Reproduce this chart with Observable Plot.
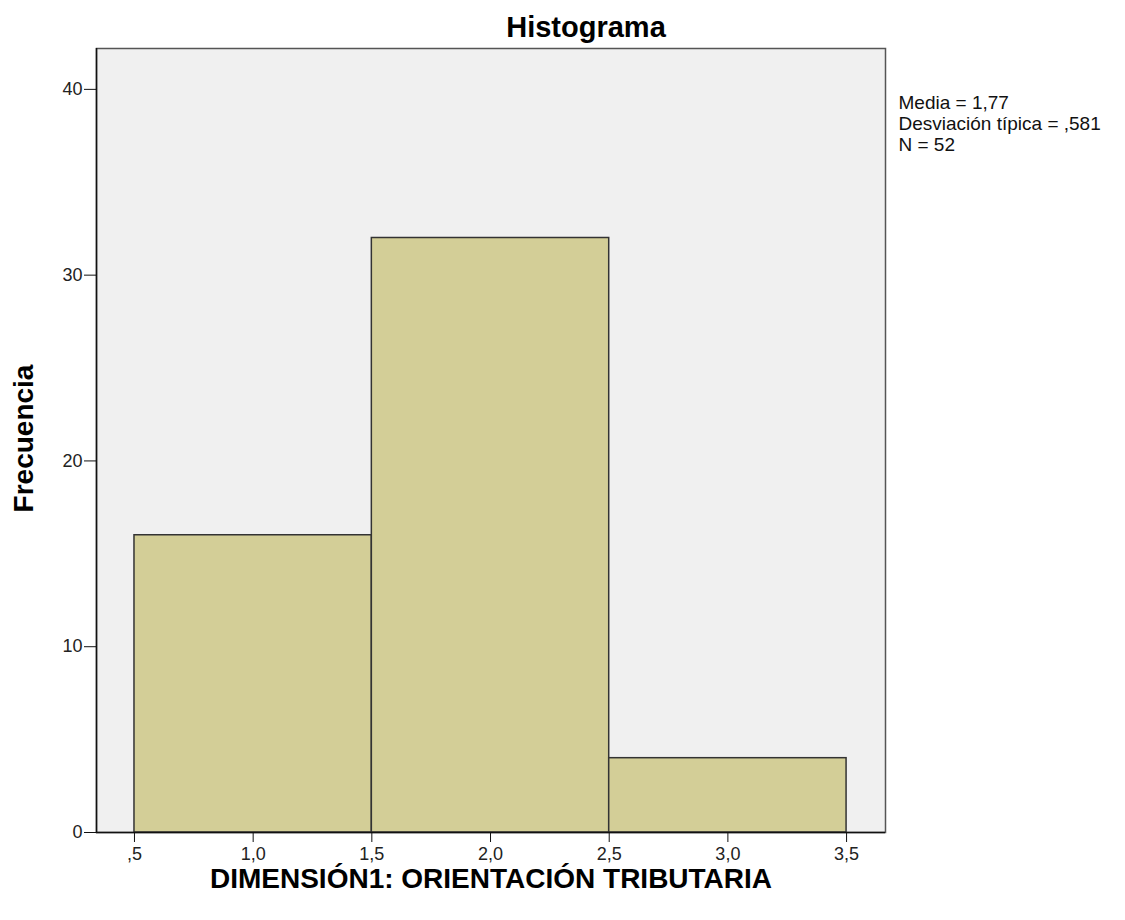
<!DOCTYPE html>
<html>
<head>
<meta charset="utf-8">
<script src="https://cdn.jsdelivr.net/npm/d3@7"></script>
<script src="https://cdn.jsdelivr.net/npm/@observablehq/plot@0.6"></script>
<style>
  html, body { margin: 0; padding: 0; background: #fff; }
  #chart svg { display: block; }
</style>
</head>
<body>
<div id="chart"></div>
<script>
// Data
const binStart = [0.5, 1.5, 2.5];
const binEnd   = [1.5, 2.5, 3.5];
const counts   = [16, 32, 4];
const xTicks = [0.5, 1.0, 1.5, 2.0, 2.5, 3.0, 3.5];
const yTicks = [0, 10, 20, 30, 40];
const titleText = "Histograma";
const xLabel = "DIMENSIÓN1: ORIENTACIÓN TRIBUTARIA";
const yLabel = "Frecuencia";
const statsLines = ["Media = 1,77", "Desviación típica = ,581", "N = 52"];

const bins = binStart.map((s, i) => ({x1: s, x2: binEnd[i], y: counts[i]}));
const fmtX = d => d3.format(".1f")(d).replace(".", ",").replace(/^0/, "");
const TICK_FS = 18;

const chart = Plot.plot({
  width: 1125,
  height: 920,
  marginLeft: 96,
  marginRight: 240,
  marginTop: 48,
  marginBottom: 88,
  style: {fontFamily: "'Liberation Sans', Arial, sans-serif", fontSize: TICK_FS + "px", background: "#fff", color: "#222"},
  x: {domain: [0.34, 3.664], label: null},
  y: {domain: [0, 42.2], label: null},
  marks: [
    Plot.frame({fill: "#f0f0f0", stroke: "#555", strokeWidth: 1.5}),
    Plot.rectY(bins, {x1: "x1", x2: "x2", y: "y", fill: "#d3ce97", stroke: "#333", strokeWidth: 1.5}),
    Plot.ruleX([0.34], {stroke: "#111", strokeWidth: 1.5}),
    Plot.ruleY([0], {stroke: "#111", strokeWidth: 1.5}),
    Plot.axisX({ticks: xTicks, tickFormat: fmtX, tickSize: 10, tickPadding: 5, fontSize: TICK_FS, label: null, stroke: "#111"}),
    Plot.axisY({ticks: yTicks, tickFormat: d => String(d), tickSize: 12, tickPadding: 2, fontSize: TICK_FS, label: null, stroke: "#111"}),
    Plot.text([titleText], {frameAnchor: "top", lineAnchor: "middle", textAnchor: "middle", dx: 95, dy: -21, fontSize: 29, fontWeight: "bold", fill: "#000"}),
    Plot.text([xLabel], {frameAnchor: "bottom", lineAnchor: "middle", textAnchor: "middle", dy: 47, fontSize: 28, fontWeight: "bold", fill: "#000"}),
    Plot.text([yLabel], {frameAnchor: "left", lineAnchor: "middle", textAnchor: "middle", dx: -72, dy: -2, rotate: -90, fontSize: 28, fontWeight: "bold", fill: "#000"}),
    Plot.text([statsLines.join("\n")], {frameAnchor: "top-right", textAnchor: "start", lineAnchor: "top", dx: 13, dy: 45, fontSize: 19, lineHeight: 1.12, fill: "#111"})
  ]
});
// axis tick labels size (SPSS-style)
d3.select(chart).selectAll("g").each(function() {
  const g = d3.select(this);
  const lab = (g.attr("aria-label") || "");
  if (lab.includes("axis")) {
    g.attr("font-size", TICK_FS).style("font-size", TICK_FS + "px", "important");
    g.selectAll("text").attr("font-size", TICK_FS).style("font-size", TICK_FS + "px", "important").attr("fill", "#222");
  }
});
document.getElementById("chart").appendChild(chart);
</script>
</body>
</html>
